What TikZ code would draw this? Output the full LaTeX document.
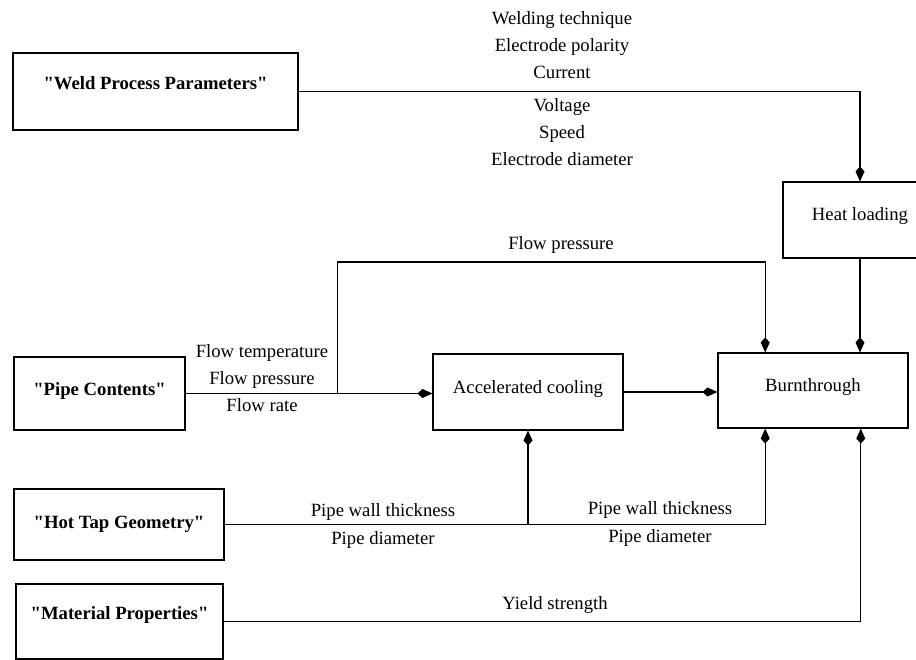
\documentclass[tikz,border=0pt]{standalone}
\usepackage{fontspec}
\setmainfont{Liberation Serif}[Ligatures=TeXOff]
\usetikzlibrary{arrows.meta,calc}

\begin{document}
\begin{tikzpicture}[x=1pt, y=-1pt, line width=1.1pt,
	every node/.style={font=\fontsize{18.7}{27.3}\selectfont},
	inbox/.style={draw, font=\fontsize{18.7}{27.3}\selectfont\bfseries, text height=13pt, text depth=#1, inner sep=0pt},
	inbox/.default=11pt,
	procbox/.style={draw, text height=13pt, text depth=#1, inner sep=0pt},
	procbox/.default=11pt,
	lbl/.style={align=center, inner sep=0pt},
	flow/.style={-{Kite[length=15pt, width=9pt, inset=5pt]}}]

	\useasboundingbox (0,0) rectangle (916,660);
	\clip (0,0) rectangle (916,660);

	% inputs
	\node[inbox=17pt, minimum width=285pt, minimum height=77pt] (weld) at (155.5,91.5) {"Weld Process Parameters"};
	\node[inbox=9pt, minimum width=171pt, minimum height=73pt] (pipe) at (99.5,393.5) {"Pipe Contents"};
	\node[inbox=5pt, minimum width=210pt, minimum height=71pt] (hot) at (119,524.5) {"Hot Tap Geometry"};
	\node[inbox=17pt, minimum width=207pt, minimum height=75pt] (mat) at (119.5,621.5) {"Material Properties"};

	% processes
	\node[procbox=12pt, minimum width=154pt, minimum height=76pt] (heat) at (860,220) {Heat loading};
	\node[procbox=10pt, minimum width=190pt, minimum height=76pt] (cool) at (528,392) {Accelerated cooling};
	\node[procbox, minimum width=190pt, minimum height=75pt] (burn) at (813,390.5) {Burnthrough};

	% ports on burnthrough
	\coordinate (burnA) at ($(burn.north west)!.25!(burn.north east)$);
	\coordinate (burnB) at ($(burn.south west)!.25!(burn.south east)$);
	\coordinate (burnC) at ($(burn.south west)!.75!(burn.south east)$);

	% connectors
	\draw[flow] (weld.east) -| (heat.north);
	\draw[flow] (heat.south) -- (heat.south |- burn.north);
	\draw[flow] (pipe.east) -- (pipe.east -| cool.west);
	\path (pipe.east) ++(152,0) coordinate (split);
	\draw[flow] (split) -- ++(0,-131.5) -| (burnA);
	\draw[flow] (cool.east) -- (cool.east -| burn.west);
	\path (hot.east -| cool.south) coordinate (join);
	\draw[flow] (hot.east) -| (cool.south);
	\draw[flow] (join) -| (burnB);
	\draw[flow] (mat.east) -| (burnC);

	% labels
	\node[lbl] (weldtop) at (562,45) {Welding technique\\Electrode polarity\\Current};
	\node[lbl] (weldbot) at (562,132) {Voltage\\Speed\\Electrode diameter};
	\node[lbl] (flowtop) at (561,245) {Flow pressure};
	\node[lbl] (flowin) at (262,378) {Flow temperature\\Flow pressure\\Flow rate};
	\node[lbl] (geomA) at (383,526) {Pipe wall thickness\\Pipe diameter};
	\node[lbl] (geomB) at (660,524) {Pipe wall thickness\\Pipe diameter};
	\node[lbl] (yield) at (555,605) {Yield strength};
\end{tikzpicture}
\end{document}
